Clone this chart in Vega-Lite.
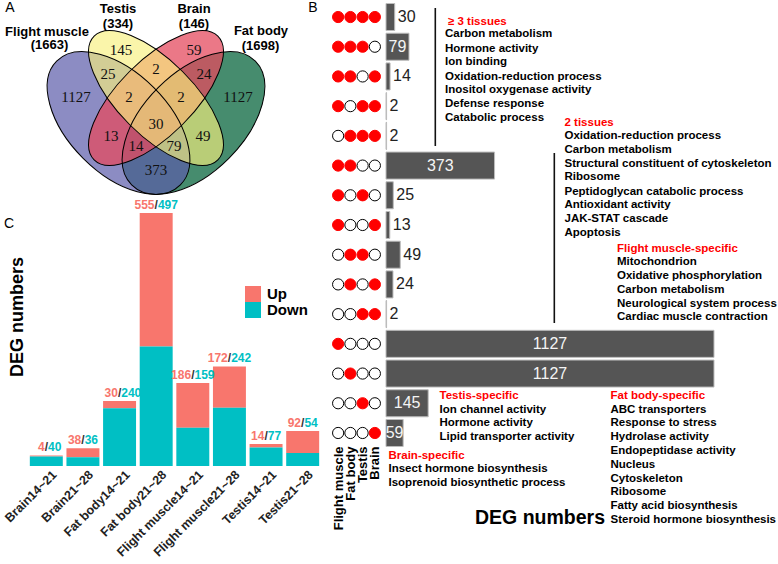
{
 "$schema": "https://vega.github.io/schema/vega-lite/v6.json",
 "background": "white",
 "padding": {"left": 2, "top": 0, "right": 0, "bottom": 0},
 "config": {
  "view": {"stroke": null},
  "font": "Liberation Sans",
  "axis": {"labelFont": "Liberation Sans", "titleFont": "Liberation Sans", "grid": false, "titleFontWeight": "bold", "titleColor": "#000000"},
  "legend": {"labelFont": "Liberation Sans"},
  "title": {"font": "Liberation Sans"},
  "text": {"font": "Liberation Sans"}
 },
 "datasets": {
  "venn": [
   {"set": "Flight muscle", "u": 0.35, "v": 0.465},
   {"set": "Testis", "u": 0.5, "v": 0.565},
   {"set": "Brain", "u": 0.5, "v": 0.565},
   {"set": "Fat body", "u": 0.65, "v": 0.465}
  ],
  "venn_counts": [
   {"u": 0.36, "v": 0.757, "label": "145"},
   {"u": 0.652, "v": 0.757, "label": "59"},
   {"u": 0.308, "v": 0.661, "label": "25"},
   {"u": 0.5, "v": 0.681, "label": "2"},
   {"u": 0.692, "v": 0.661, "label": "24"},
   {"u": 0.18, "v": 0.569, "label": "1127"},
   {"u": 0.392, "v": 0.569, "label": "2"},
   {"u": 0.6, "v": 0.569, "label": "2"},
   {"u": 0.828, "v": 0.569, "label": "1127"},
   {"u": 0.5, "v": 0.461, "label": "30"},
   {"u": 0.32, "v": 0.413, "label": "13"},
   {"u": 0.688, "v": 0.413, "label": "49"},
   {"u": 0.42, "v": 0.373, "label": "14"},
   {"u": 0.572, "v": 0.373, "label": "79"},
   {"u": 0.5, "v": 0.277, "label": "373"}
  ],
  "venn_names": [
   {"u": 0.064, "v": 0.829, "label": "Flight muscle"},
   {"u": 0.074, "v": 0.777, "label": "(1663)"},
   {"u": 0.348, "v": 0.923, "label": "Testis"},
   {"u": 0.348, "v": 0.861, "label": "(334)"},
   {"u": 0.652, "v": 0.923, "label": "Brain"},
   {"u": 0.652, "v": 0.861, "label": "(146)"},
   {"u": 0.92, "v": 0.834, "label": "Fat body"},
   {"u": 0.918, "v": 0.775, "label": "(1698)"}
  ],
  "letters": [
   {"u": -0.084, "v": 0.925, "label": "A"},
   {"u": 1.128, "v": 0.924, "label": "B"},
   {"u": -0.088, "v": 0.061, "label": "C"}
  ],
  "degs": [
   {"group": "Brain14~21", "dir": "Up", "n": 4}, {"group": "Brain14~21", "dir": "Down", "n": 40},
   {"group": "Brain21~28", "dir": "Up", "n": 38}, {"group": "Brain21~28", "dir": "Down", "n": 36},
   {"group": "Fat body14~21", "dir": "Up", "n": 30}, {"group": "Fat body14~21", "dir": "Down", "n": 240},
   {"group": "Fat body21~28", "dir": "Up", "n": 555}, {"group": "Fat body21~28", "dir": "Down", "n": 497},
   {"group": "Flight muscle14~21", "dir": "Up", "n": 186}, {"group": "Flight muscle14~21", "dir": "Down", "n": 159},
   {"group": "Flight muscle21~28", "dir": "Up", "n": 172}, {"group": "Flight muscle21~28", "dir": "Down", "n": 242},
   {"group": "Testis14~21", "dir": "Up", "n": 14}, {"group": "Testis14~21", "dir": "Down", "n": 77},
   {"group": "Testis21~28", "dir": "Up", "n": 92}, {"group": "Testis21~28", "dir": "Down", "n": 54}
  ],
  "patterns": [
   {"key": "p1111", "n": 30, "Flight muscle": 1, "Fat body": 1, "Testis": 1, "Brain": 1},
   {"key": "p1110", "n": 79, "Flight muscle": 1, "Fat body": 1, "Testis": 1, "Brain": 0},
   {"key": "p1101", "n": 14, "Flight muscle": 1, "Fat body": 1, "Testis": 0, "Brain": 1},
   {"key": "p1011", "n": 2, "Flight muscle": 1, "Fat body": 0, "Testis": 1, "Brain": 1},
   {"key": "p0111", "n": 2, "Flight muscle": 0, "Fat body": 1, "Testis": 1, "Brain": 1},
   {"key": "p1100", "n": 373, "Flight muscle": 1, "Fat body": 1, "Testis": 0, "Brain": 0},
   {"key": "p1010", "n": 25, "Flight muscle": 1, "Fat body": 0, "Testis": 1, "Brain": 0},
   {"key": "p1001", "n": 13, "Flight muscle": 1, "Fat body": 0, "Testis": 0, "Brain": 1},
   {"key": "p0110", "n": 49, "Flight muscle": 0, "Fat body": 1, "Testis": 1, "Brain": 0},
   {"key": "p0101", "n": 24, "Flight muscle": 0, "Fat body": 1, "Testis": 0, "Brain": 1},
   {"key": "p0011", "n": 2, "Flight muscle": 0, "Fat body": 0, "Testis": 1, "Brain": 1},
   {"key": "p1000", "n": 1127, "Flight muscle": 1, "Fat body": 0, "Testis": 0, "Brain": 0},
   {"key": "p0100", "n": 1127, "Flight muscle": 0, "Fat body": 1, "Testis": 0, "Brain": 0},
   {"key": "p0010", "n": 145, "Flight muscle": 0, "Fat body": 0, "Testis": 1, "Brain": 0},
   {"key": "p0001", "n": 59, "Flight muscle": 0, "Fat body": 0, "Testis": 0, "Brain": 1}
  ],
  "notes": [
   {"x": 213, "r": 0.158, "text": "≥ 3 tissues", "kind": "head"},
   {"x": 202.7, "r": 0.582, "text": "Carbon metabolism", "kind": "item"},
   {"x": 202.7, "r": 1.067, "text": "Hormone activity", "kind": "item"},
   {"x": 202.7, "r": 1.525, "text": "Ion binding", "kind": "item"},
   {"x": 202.7, "r": 2.010, "text": "Oxidation-reduction process", "kind": "item"},
   {"x": 202.7, "r": 2.468, "text": "Inositol oxygenase activity", "kind": "item"},
   {"x": 202.7, "r": 2.939, "text": "Defense response", "kind": "item"},
   {"x": 202.7, "r": 3.411, "text": "Catabolic process", "kind": "item"},
   {"x": 613.3, "r": 3.559, "text": "2 tissues", "kind": "head"},
   {"x": 613.3, "r": 4.007, "text": "Oxidation-reduction process", "kind": "item"},
   {"x": 613.3, "r": 4.478, "text": "Carbon metabolism", "kind": "item"},
   {"x": 613.3, "r": 4.949, "text": "Structural constituent of cytoskeleton", "kind": "item"},
   {"x": 613.3, "r": 5.377, "text": "Ribosome", "kind": "item"},
   {"x": 613.3, "r": 5.882, "text": "Peptidoglycan catabolic process", "kind": "item"},
   {"x": 613.3, "r": 6.330, "text": "Antioxidant activity", "kind": "item"},
   {"x": 613.3, "r": 6.811, "text": "JAK-STAT cascade", "kind": "item"},
   {"x": 613.3, "r": 7.273, "text": "Apoptosis", "kind": "item"},
   {"x": 793.7, "r": 7.822, "text": "Flight muscle-specific", "kind": "head"},
   {"x": 793.7, "r": 8.249, "text": "Mitochondrion", "kind": "item"},
   {"x": 793.7, "r": 8.731, "text": "Oxidative phosphorylation", "kind": "item"},
   {"x": 793.7, "r": 9.192, "text": "Carbon metabolism", "kind": "item"},
   {"x": 793.7, "r": 9.663, "text": "Neurological system process", "kind": "item"},
   {"x": 793.7, "r": 10.111, "text": "Cardiac muscle contraction", "kind": "item"},
   {"x": 183.8, "r": 12.761, "text": "Testis-specific", "kind": "head"},
   {"x": 183.8, "r": 13.222, "text": "Ion channel activity", "kind": "item"},
   {"x": 183.8, "r": 13.670, "text": "Hormone activity", "kind": "item"},
   {"x": 183.8, "r": 14.141, "text": "Lipid transporter activity", "kind": "item"},
   {"x": 8.6, "r": 14.781, "text": "Brain-specific", "kind": "head"},
   {"x": 8.6, "r": 15.219, "text": "Insect hormone biosynthesis", "kind": "item"},
   {"x": 8.6, "r": 15.690, "text": "Isoprenoid biosynthetic process", "kind": "item"},
   {"x": 771.4, "r": 12.761, "text": "Fat body-specific", "kind": "head"},
   {"x": 771.4, "r": 13.222, "text": "ABC transporters", "kind": "item"},
   {"x": 771.4, "r": 13.670, "text": "Response to stress", "kind": "item"},
   {"x": 771.4, "r": 14.141, "text": "Hydrolase activity", "kind": "item"},
   {"x": 771.4, "r": 14.603, "text": "Endopeptidase activity", "kind": "item"},
   {"x": 771.4, "r": 15.074, "text": "Nucleus", "kind": "item"},
   {"x": 771.4, "r": 15.545, "text": "Cytoskeleton", "kind": "item"},
   {"x": 771.4, "r": 16.003, "text": "Ribosome", "kind": "item"},
   {"x": 771.4, "r": 16.475, "text": "Fatty acid biosynthesis", "kind": "item"},
   {"x": 771.4, "r": 16.946, "text": "Steroid hormone biosynthesis", "kind": "item"}
  ],
  "brackets": [
   {"x": 169.4, "r0": -0.303, "r1": 4.343},
   {"x": 578.3, "r0": 4.579, "r1": 10.303}
  ]
 },
 "spacing": 9,
 "resolve": {"scale": {"color": "independent"}, "legend": {"color": "independent"}},
 "hconcat": [
  {
   "spacing": 13,
   "bounds": "flush",
   "vconcat": [
    {
     "width": 293,
     "height": 200,
     "encoding": {
      "x": {"field": "u", "type": "quantitative", "scale": {"domain": [-0.012, 1.16], "nice": false, "zero": false}, "axis": null},
      "y": {"field": "v", "type": "quantitative", "scale": {"domain": [0.157, 0.957], "nice": false, "zero": false}, "axis": null}
     },
     "layer": [
      {"data": {"name": "venn"}, "transform": [{"filter": "datum.set === 'Fat body'"}],
       "mark": {"type": "point", "shape": "M-1,0C-1,-0.3156,-0.5523,-0.5714,0,-0.5714C0.5523,-0.5714,1,-0.3156,1,0C1,0.3156,0.5523,0.5714,0,0.5714C-0.5523,0.5714,-1,0.3156,-1,0Z", "angle": -45, "size": 30625, "filled": true, "fill": "#468C6E", "fillOpacity": 1, "opacity": 1, "strokeWidth": 0}},
      {"data": {"name": "venn"}, "transform": [{"filter": "datum.set === 'Flight muscle'"}],
       "mark": {"type": "point", "shape": "M-1,0C-1,-0.3156,-0.5523,-0.5714,0,-0.5714C0.5523,-0.5714,1,-0.3156,1,0C1,0.3156,0.5523,0.5714,0,0.5714C-0.5523,0.5714,-1,0.3156,-1,0Z", "angle": 45, "size": 30625, "filled": true, "fill": "#5B5BA9", "fillOpacity": 0.7, "opacity": 1, "strokeWidth": 0}},
      {"data": {"name": "venn"}, "transform": [{"filter": "datum.set === 'Brain'"}],
       "mark": {"type": "point", "shape": "M-1,0C-1,-0.2367,-0.5523,-0.4286,0,-0.4286C0.5523,-0.4286,1,-0.2367,1,0C1,0.2367,0.5523,0.4286,0,0.4286C-0.5523,0.4286,-1,0.2367,-1,0Z", "angle": -45, "size": 30625, "filled": true, "fill": "#E44B5F", "fillOpacity": 0.75, "opacity": 1, "strokeWidth": 0}},
      {"data": {"name": "venn"}, "transform": [{"filter": "datum.set === 'Testis'"}],
       "mark": {"type": "point", "shape": "M-1,0C-1,-0.2367,-0.5523,-0.4286,0,-0.4286C0.5523,-0.4286,1,-0.2367,1,0C1,0.2367,0.5523,0.4286,0,0.4286C-0.5523,0.4286,-1,0.2367,-1,0Z", "angle": 45, "size": 30625, "filled": true, "fill": "#F7F07C", "fillOpacity": 0.65, "opacity": 1, "strokeWidth": 0}},
      {"data": {"name": "venn"}, "transform": [{"filter": "datum.set === 'Fat body'"}],
       "mark": {"type": "point", "shape": "M-1,0C-1,-0.3156,-0.5523,-0.5714,0,-0.5714C0.5523,-0.5714,1,-0.3156,1,0C1,0.3156,0.5523,0.5714,0,0.5714C-0.5523,0.5714,-1,0.3156,-1,0Z", "angle": -45, "size": 30625, "filled": false, "stroke": "#000000", "strokeWidth": 1, "opacity": 1}},
      {"data": {"name": "venn"}, "transform": [{"filter": "datum.set === 'Flight muscle'"}],
       "mark": {"type": "point", "shape": "M-1,0C-1,-0.3156,-0.5523,-0.5714,0,-0.5714C0.5523,-0.5714,1,-0.3156,1,0C1,0.3156,0.5523,0.5714,0,0.5714C-0.5523,0.5714,-1,0.3156,-1,0Z", "angle": 45, "size": 30625, "filled": false, "stroke": "#000000", "strokeWidth": 1, "opacity": 1}},
      {"data": {"name": "venn"}, "transform": [{"filter": "datum.set === 'Brain'"}],
       "mark": {"type": "point", "shape": "M-1,0C-1,-0.2367,-0.5523,-0.4286,0,-0.4286C0.5523,-0.4286,1,-0.2367,1,0C1,0.2367,0.5523,0.4286,0,0.4286C-0.5523,0.4286,-1,0.2367,-1,0Z", "angle": -45, "size": 30625, "filled": false, "stroke": "#000000", "strokeWidth": 1, "opacity": 1}},
      {"data": {"name": "venn"}, "transform": [{"filter": "datum.set === 'Testis'"}],
       "mark": {"type": "point", "shape": "M-1,0C-1,-0.2367,-0.5523,-0.4286,0,-0.4286C0.5523,-0.4286,1,-0.2367,1,0C1,0.2367,0.5523,0.4286,0,0.4286C-0.5523,0.4286,-1,0.2367,-1,0Z", "angle": 45, "size": 30625, "filled": false, "stroke": "#000000", "strokeWidth": 1, "opacity": 1}},
      {"data": {"name": "venn_counts"},
       "mark": {"type": "text", "font": "Liberation Serif", "fontSize": 15, "color": "#111111", "align": "center", "baseline": "middle"},
       "encoding": {"text": {"field": "label"}}},
      {"data": {"name": "venn_names"},
       "mark": {"type": "text", "fontSize": 13, "fontWeight": "bold", "color": "#000000", "align": "center", "baseline": "middle"},
       "encoding": {"text": {"field": "label"}}},
      {"data": {"name": "letters"},
       "mark": {"type": "text", "fontSize": 14, "color": "#000000", "align": "center", "baseline": "middle"},
       "encoding": {"text": {"field": "label"}}}
     ]
    },
    {
     "width": 293,
     "height": 253,
     "data": {"name": "degs"},
     "encoding": {
      "x": {"field": "group", "type": "nominal", "sort": null,
            "scale": {"paddingInner": 0.1, "paddingOuter": 0.05},
            "axis": {"title": null, "labelAngle": -45, "labelAlign": "right", "labelBaseline": "top", "labelFontSize": 12.5, "labelFontWeight": "bold", "labelColor": "#222222", "ticks": false, "domain": false, "labelPadding": 2, "labelOffset": 4, "labelLimit": 0}}
     },
     "layer": [
      {"mark": {"type": "bar"},
       "encoding": {
        "y": {"field": "n", "type": "quantitative", "stack": "zero", "scale": {"domain": [0, 1052], "nice": false},
              "axis": {"title": "DEG numbers", "titleFontSize": 18, "titleFontWeight": "bold", "titleColor": "#000000", "labels": false, "ticks": false, "domain": false, "grid": false, "titlePadding": 2, "titleY": 103.5}},
        "color": {"field": "dir", "type": "nominal", "scale": {"domain": ["Up", "Down"], "range": ["#F8766D", "#00BFC4"]},
                  "legend": {"title": null, "orient": "none", "legendX": 217, "legendY": 286, "symbolType": "square", "symbolSize": 256, "symbolStrokeWidth": 0, "labelFontSize": 15, "labelFontWeight": "bold", "labelColor": "#000000", "rowPadding": 0, "labelOffset": 6, "padding": 0}},
        "order": {"field": "dir", "sort": "ascending"}
       }},
      {"transform": [{"joinaggregate": [{"op": "sum", "field": "n", "as": "total"}], "groupby": ["group"]}, {"filter": "datum.dir === 'Up'"}],
       "mark": {"type": "text", "align": "right", "baseline": "middle", "dx": -1.7, "dy": -8, "fontSize": 12, "fontWeight": "bold", "color": "#F8766D"},
       "encoding": {
        "y": {"field": "total", "type": "quantitative", "scale": {"domain": [0, 1052], "nice": false},
              "axis": {"title": "DEG numbers", "titleFontSize": 18, "titleFontWeight": "bold", "titleColor": "#000000", "labels": false, "ticks": false, "domain": false, "grid": false, "titlePadding": 2, "titleY": 103.5}},
        "text": {"field": "n"}
       }},
      {"transform": [{"joinaggregate": [{"op": "sum", "field": "n", "as": "total"}], "groupby": ["group"]}, {"filter": "datum.dir === 'Up'"}],
       "mark": {"type": "text", "align": "center", "baseline": "middle", "dy": -8, "fontSize": 12, "fontWeight": "bold", "color": "#333333", "text": "/"},
       "encoding": {
        "y": {"field": "total", "type": "quantitative", "scale": {"domain": [0, 1052], "nice": false},
              "axis": {"title": "DEG numbers", "titleFontSize": 18, "titleFontWeight": "bold", "titleColor": "#000000", "labels": false, "ticks": false, "domain": false, "grid": false, "titlePadding": 2, "titleY": 103.5}}
       }},
      {"transform": [{"joinaggregate": [{"op": "sum", "field": "n", "as": "total"}], "groupby": ["group"]}, {"filter": "datum.dir === 'Down'"}],
       "mark": {"type": "text", "align": "left", "baseline": "middle", "dx": 1.7, "dy": -8, "fontSize": 12, "fontWeight": "bold", "color": "#00BFC4"},
       "encoding": {
        "y": {"field": "total", "type": "quantitative", "scale": {"domain": [0, 1052], "nice": false},
              "axis": {"title": "DEG numbers", "titleFontSize": 18, "titleFontWeight": "bold", "titleColor": "#000000", "labels": false, "ticks": false, "domain": false, "grid": false, "titlePadding": 2, "titleY": 103.5}},
        "text": {"field": "n"}
       }}
     ]
    }
   ]
  },
  {
   "spacing": 5,
   "bounds": "flush",
   "hconcat": [
    {
     "width": 49,
     "height": 450,
     "data": {"name": "patterns"},
     "transform": [{"fold": ["Flight muscle", "Fat body", "Testis", "Brain"], "as": ["tissue", "present"]}],
     "mark": {"type": "point", "filled": true, "size": 125, "strokeWidth": 1, "opacity": 1},
     "encoding": {
      "x": {"field": "tissue", "type": "nominal", "sort": ["Flight muscle", "Fat body", "Testis", "Brain"],
            "scale": {"type": "point", "padding": 0.5},
            "axis": {"title": null, "labelAngle": -90, "labelAlign": "right", "labelBaseline": "middle", "labelFontSize": 13, "labelFontWeight": "bold", "labelColor": "#000000", "ticks": false, "domain": false, "labelPadding": -4, "labelLimit": 0}},
      "y": {"field": "key", "type": "nominal",
            "scale": {"type": "band", "domain": ["p1111", "p1110", "p1101", "p1011", "p0111", "p1100", "p1010", "p1001", "p0110", "p0101", "p0011", "p1000", "p0100", "p0010", "p0001"], "paddingInner": 0.09, "paddingOuter": 0.118},
            "axis": null},
      "fill": {"field": "present", "type": "nominal", "scale": {"domain": [0, 1], "range": ["#ffffff", "#ff0000"]}, "legend": null},
      "stroke": {"field": "present", "type": "nominal", "scale": {"domain": [0, 1], "range": ["#000000", "#ff0000"]}, "legend": null}
     }
    },
    {
     "width": 390,
     "height": 450,
     "resolve": {"scale": {"y": "independent"}},
     "layer": [
      {
       "data": {"name": "patterns"},
       "encoding": {
        "y": {"field": "key", "type": "nominal",
              "scale": {"domain": ["p1111", "p1110", "p1101", "p1011", "p0111", "p1100", "p1010", "p1001", "p0110", "p0101", "p0011", "p1000", "p0100", "p0010", "p0001"], "paddingInner": 0.09, "paddingOuter": 0.118},
              "axis": null}
       },
       "layer": [
        {"mark": {"type": "bar", "fill": "#555555", "stroke": "#bdbdbd", "strokeWidth": 1},
         "encoding": {"x": {"field": "n", "type": "quantitative", "scale": {"domain": [0, 1340], "nice": false},
              "axis": {"title": "DEG numbers", "titleFontSize": 19.5, "titleFontWeight": "bold", "titleColor": "#000000", "labels": false, "ticks": false, "domain": false, "grid": false, "titleX": 153.5, "titleY": 58, "titleAlign": "center", "titleBaseline": "top"}}}},
        {"transform": [{"filter": "datum.n >= 55"}, {"calculate": "datum.n / 2", "as": "mid"}],
         "mark": {"type": "text", "color": "#f4f4f4", "fontSize": 16, "align": "center", "baseline": "middle"},
         "encoding": {"x": {"field": "mid", "type": "quantitative", "scale": {"domain": [0, 1340], "nice": false},
              "axis": {"title": "DEG numbers", "titleFontSize": 19.5, "titleFontWeight": "bold", "titleColor": "#000000", "labels": false, "ticks": false, "domain": false, "grid": false, "titleX": 153.5, "titleY": 58, "titleAlign": "center", "titleBaseline": "top"}},
                      "text": {"field": "n"}}},
        {"transform": [{"filter": "datum.n < 55"}],
         "mark": {"type": "text", "color": "#222222", "fontSize": 16, "align": "left", "baseline": "middle", "dx": 3},
         "encoding": {"x": {"field": "n", "type": "quantitative", "scale": {"domain": [0, 1340], "nice": false},
              "axis": {"title": "DEG numbers", "titleFontSize": 19.5, "titleFontWeight": "bold", "titleColor": "#000000", "labels": false, "ticks": false, "domain": false, "grid": false, "titleX": 153.5, "titleY": 58, "titleAlign": "center", "titleBaseline": "top"}},
                      "text": {"field": "n"}}}
       ]
      },
      {
       "data": {"name": "notes"},
       "mark": {"type": "text", "align": "left", "baseline": "middle", "fontSize": 11.5, "fontWeight": "bold"},
       "encoding": {
        "x": {"field": "x", "type": "quantitative", "scale": {"domain": [0, 1340], "nice": false},
              "axis": {"title": "DEG numbers", "titleFontSize": 19.5, "titleFontWeight": "bold", "titleColor": "#000000", "labels": false, "ticks": false, "domain": false, "grid": false, "titleX": 153.5, "titleY": 58, "titleAlign": "center", "titleBaseline": "top"}},
        "y": {"field": "r", "type": "quantitative", "scale": {"domain": [-0.5724, 14.579], "reverse": true, "nice": false, "zero": false}, "axis": null},
        "text": {"field": "text"},
        "color": {"field": "kind", "type": "nominal", "scale": {"domain": ["head", "item"], "range": ["#ff0000", "#000000"]}, "legend": null}
       }
      },
      {
       "data": {"name": "brackets"},
       "mark": {"type": "rule", "color": "#111111", "strokeWidth": 1.6},
       "encoding": {
        "x": {"field": "x", "type": "quantitative", "scale": {"domain": [0, 1340], "nice": false},
              "axis": {"title": "DEG numbers", "titleFontSize": 19.5, "titleFontWeight": "bold", "titleColor": "#000000", "labels": false, "ticks": false, "domain": false, "grid": false, "titleX": 153.5, "titleY": 58, "titleAlign": "center", "titleBaseline": "top"}},
        "y": {"field": "r0", "type": "quantitative", "scale": {"domain": [-0.5724, 14.579], "reverse": true, "nice": false, "zero": false}, "axis": null},
        "y2": {"field": "r1"}
       }
      }
     ]
    }
   ]
  }
 ]
}
